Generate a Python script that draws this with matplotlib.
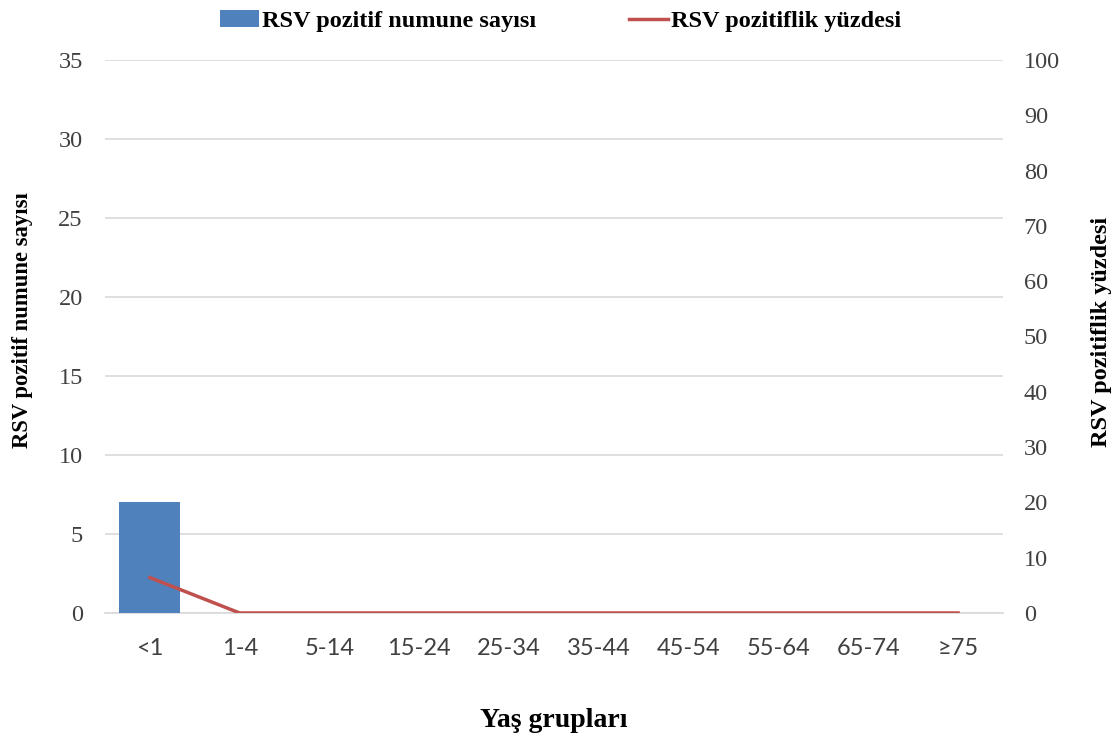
import matplotlib
matplotlib.use("Agg")
import matplotlib.pyplot as plt
from matplotlib.patches import Patch
from matplotlib.lines import Line2D

categories = ["<1", "1-4", "5-14", "15-24", "25-34", "35-44", "45-54", "55-64", "65-74", "≥75"]
positive_counts = [7, 0, 0, 0, 0, 0, 0, 0, 0, 0]
positive_percent = [6.4, 0, 0, 0, 0, 0, 0, 0, 0, 0]
left_ticks = [0, 5, 10, 15, 20, 25, 30, 35]
right_ticks = [0, 10, 20, 30, 40, 50, 60, 70, 80, 90, 100]

bar_color = "#4F81BD"
line_color = "#C0504D"
serif = ["Liberation Serif", "DejaVu Serif"]
sans = ["Lato", "DejaVu Sans"]
tick_color = "#404040"

fig = plt.figure(figsize=(11.17, 7.37), dpi=100)
ax = fig.add_axes([105/1117, 1-613/737, 898/1117, 553/737])
x = list(range(len(categories)))
ax.bar(x, positive_counts, width=0.68, color=bar_color, zorder=3)
ax.set_xlim(-0.5, len(categories)-0.5)
ax.set_ylim(0, 35)
ax.set_yticks(left_ticks)
ax.yaxis.grid(True, color="#D9D9D9", linewidth=1.2, zorder=0)
ax.set_axisbelow(True)
for s in ["top", "right", "left"]:
    ax.spines[s].set_visible(False)
ax.spines["bottom"].set_color("#D9D9D9")
ax.spines["bottom"].set_linewidth(1.2)
ax.tick_params(axis="both", length=0)
ax.tick_params(axis="y", pad=16)
ax.tick_params(axis="x", pad=18)
ax.set_xticks(x)
ax.set_xticklabels(categories, family=sans, fontsize=17, color=tick_color)
for t in ax.get_yticklabels():
    t.set_family(serif); t.set_fontsize(17.5); t.set_color(tick_color)
ax.set_ylabel("RSV pozitif numune sayısı", family=serif, fontsize=16.3, fontweight="bold")
ax.yaxis.set_label_coords(-0.0924, 0.529)
ax.yaxis.label.set_va("center")
ax.set_xlabel("Yaş grupları", family=serif, fontsize=20, fontweight="bold")
ax.xaxis.set_label_coords(0.5, -0.1935)
ax.xaxis.label.set_va("center")

ax2 = ax.twinx()
ax2.plot(x, positive_percent, color=line_color, linewidth=2.5, zorder=4)
ax2.set_ylim(0, 100)
ax2.set_yticks(right_ticks)
for s in ["top", "right", "left", "bottom"]:
    ax2.spines[s].set_visible(False)
ax2.tick_params(axis="y", length=0, pad=15)
for t in ax2.get_yticklabels():
    t.set_family(serif); t.set_fontsize(17.5); t.set_color(tick_color)
ax2.set_ylabel("RSV pozitiflik yüzdesi", family=serif, fontsize=17.5, fontweight="bold", rotation=90)
ax2.yaxis.set_label_coords(1.110, 0.508)
ax2.yaxis.label.set_va("center")

handles = [Patch(facecolor=bar_color, label="RSV pozitif numune sayısı"),
           Line2D([0], [0], color=line_color, linewidth=2.5, label="RSV pozitiflik yüzdesi")]
fig.legend(handles=handles, loc="upper center", bbox_to_anchor=(0.502, 1.016), ncol=2, frameon=False,
           prop={"family": serif, "size": 17.5, "weight": "bold"}, handlelength=1.6,
           handletextpad=0.15, columnspacing=3.8)

fig.savefig("out.png", dpi=100)
